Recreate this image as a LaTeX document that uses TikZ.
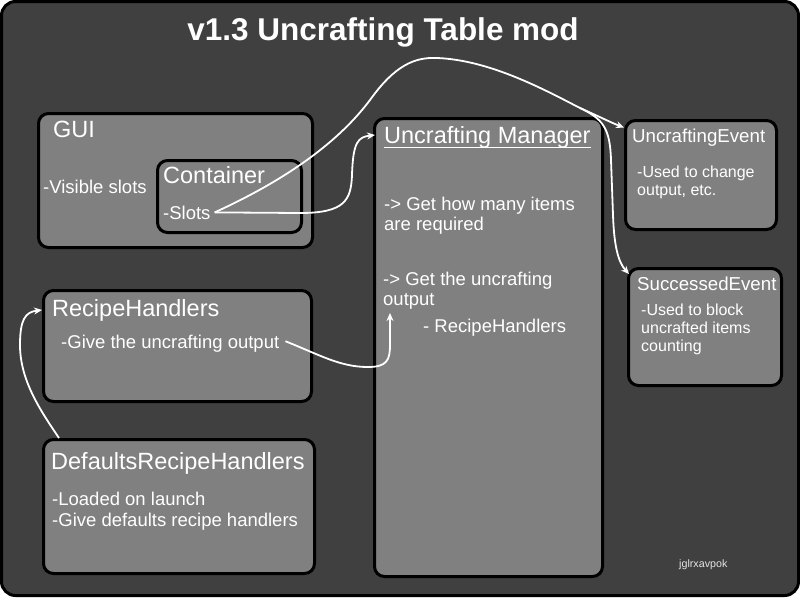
\documentclass[tikz,border=0pt]{standalone}
\usepackage{fontspec}
\setmainfont{Liberation Sans}
\usetikzlibrary{arrows.meta}
\definecolor{bgdark}{RGB}{64,64,64}
\definecolor{boxgray}{RGB}{128,128,128}
\newcommand{\mylines}[1]{\begin{tabular}[t]{@{}l@{}}#1\end{tabular}}
\tikzset{
  box/.style={draw=black, line width=3pt, fill=boxgray, rounded corners=10pt, inner sep=0pt},
  headtxt/.style={anchor=base west, inner sep=0pt, text=white, font=\fontsize{23.5}{28}\selectfont},
  bodytxt/.style={anchor=base west, inner sep=0pt, text=white, font=\fontsize{18.5}{20.5}\selectfont},
  evhead/.style={anchor=base west, inner sep=0pt, text=white, font=\fontsize{18.7}{22}\selectfont},
  evbody/.style={anchor=base west, inner sep=0pt, text=white, font=\fontsize{16}{18.3}\selectfont},
  conn/.style={draw=white, line width=1.8pt, -{Stealth[length=8pt,width=7pt]}},
}
\begin{document}
\begin{tikzpicture}[x=1pt,y=-1pt]
\useasboundingbox (0,0) rectangle (800,600);
\fill[white] (0,0) rectangle (800,600);
\draw[line width=3pt, fill=bgdark, rounded corners=14pt] (1.5,1.5) rectangle (798.5,595.5);

% title
\node[anchor=base, inner sep=0pt, text=white, font=\bfseries\fontsize{31.5}{36}\selectfont] (title) at (383,40) {v1.3 Uncrafting Table mod};

% boxes
\node[box, minimum width=274pt, minimum height=134pt] (gui) at (175.5,180.5) {};
\node[box, minimum width=144pt, minimum height=72pt] (cont) at (229.5,196.5) {};
\node[box, minimum width=268pt, minimum height=111pt] (rh) at (177.5,346) {};
\node[box, minimum width=271pt, minimum height=134pt] (drh) at (179,506.5) {};
\node[box, minimum width=228pt, minimum height=458pt] (mgr) at (488.5,347.5) {};
\node[box, minimum width=151pt, minimum height=109pt] (uev) at (701,175) {};
\node[box, minimum width=153pt, minimum height=117pt] (sev) at (705,327) {};

% texts
\node[headtxt] (guit) at (53,137) {GUI};
\node[headtxt] (contt) at (163,183) {Container};
\node[bodytxt] (vis) at (43,193) {-Visible slots};
\node[bodytxt] (slots) at (163,219) {-Slots};
\node[headtxt] (mgrt) at (384,143) {Uncrafting Manager};
\draw[white, line width=1pt] ([yshift=-4pt]mgrt.base west) -- ([yshift=-4pt]mgrt.base east);
\node[bodytxt] (howmany) at (384,210) {\mylines{-> Get how many items\\are required}};
\node[bodytxt] (getout) at (383,285) {\mylines{-> Get the uncrafting\\output}};
\node[bodytxt] (mrh) at (423,332) {- RecipeHandlers};
\node[evhead] (uevt) at (632,142) {UncraftingEvent};
\node[evbody] (uevb) at (637,177) {\mylines{-Used to change\\output, etc.}};
\node[evhead] (sevt) at (637,290) {SuccessedEvent};
\node[evbody] (sevb) at (641,315) {\mylines{-Used to block\\uncrafted items\\counting}};
\node[headtxt] (rht) at (52,316) {RecipeHandlers};
\node[bodytxt] (give) at (61,348) {-Give the uncrafting output};
\node[headtxt] (drht) at (51,469) {DefaultsRecipeHandlers};
\node[bodytxt, font=\fontsize{18.5}{21.5}\selectfont] (drhb) at (52,505) {\mylines{-Loaded on launch\\-Give defaults recipe handlers}};
\node[anchor=base west, inner sep=0pt, text=white!90!black, font=\fontsize{10.7}{12}\selectfont] (sig) at (679,567) {jglrxavpok};

% connectors
\coordinate (S) at ([xshift=4pt]slots.east);
\coordinate (split) at (580,108);
\coordinate (outIn) at (390,313);
\draw[conn] (S) -- (300,213) .. controls (345,213) and (351,200) .. (352,175)
  .. controls (353,142) and (358,137) .. ([xshift=2pt,yshift=-18pt]mgr.north west);
\draw[conn] (S) .. controls (290,178) and (340,140) .. (370,100)
  .. controls (395,65) and (415,57) .. (437,58)
  .. controls (490,60) and (545,90) .. (split)
  .. controls (598,116) and (612,123) .. ([yshift=-8.5pt]uev.north west);
\draw[conn] (split) .. controls (603,119) and (610,128) .. (611,160) -- (613,215)
  .. controls (614,245) and (618,262) .. ([xshift=2pt,yshift=-7pt]sev.north west);
\draw[conn] ([xshift=6pt,yshift=2pt]give.east) .. controls (320,355) and (340,367) .. (368,367)
  .. controls (387,367) and (390,360) .. (390,345) -- (outIn);
\draw[conn] ([xshift=17pt]drh.north west) .. controls (40,410) and (20,380) .. (20,345)
  .. controls (20,320) and (25,312) .. ([yshift=-21pt]rh.north west);
\end{tikzpicture}
\end{document}
